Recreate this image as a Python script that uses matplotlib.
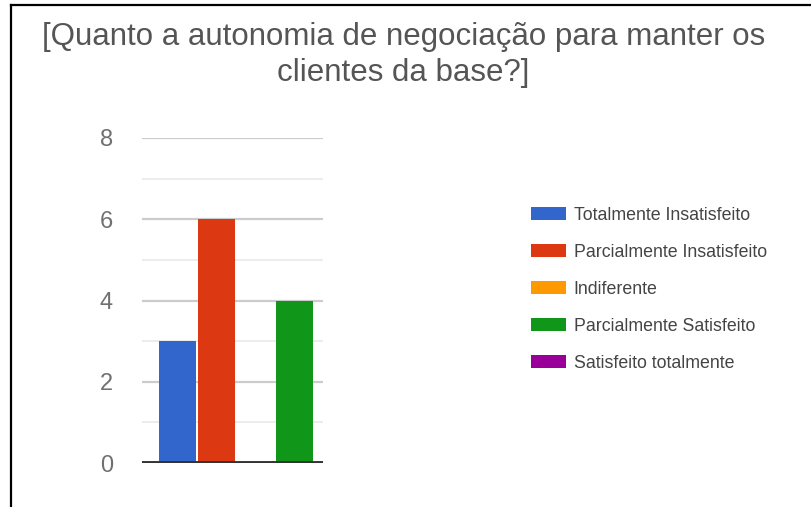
import matplotlib.pyplot as plt
from matplotlib.patches import Patch

plt.rcParams['font.family'] = ['Liberation Sans', 'DejaVu Sans']

# Respostas por categoria
categorias = ["Totalmente Insatisfeito", "Parcialmente Insatisfeito", "Indiferente",
              "Parcialmente Satisfeito", "Satisfeito totalmente"]
respostas = [3, 6, 0, 4, 0]
cores = ["#3366cc", "#dc3912", "#ff9900", "#109618", "#990099"]
yticks = [0, 2, 4, 6, 8]

fig = plt.figure(figsize=(8.12, 5.07), dpi=100)

# moldura (só esquerda e topo)
fig.add_artist(plt.Line2D([11 / 812, 11 / 812], [0, 1 - 5 / 507], color="black", lw=1.6))
fig.add_artist(plt.Line2D([11 / 812, 1], [1 - 5 / 507, 1 - 5 / 507], color="black", lw=1.6))

ax = fig.add_axes([142 / 812, 44 / 507, 181 / 812, 325 / 507])

for i, (v, c) in enumerate(zip(respostas, cores)):
    ax.bar(i, v, width=0.95, color=c, zorder=3)

ax.set_xlim(-0.91, 3.73)
ax.set_ylim(0, 8)
ax.set_yticks(yticks)
ax.set_yticks([1, 3, 5, 7], minor=True)
ax.grid(axis="y", which="major", color="#cccccc", lw=1.6, zorder=0)
ax.grid(axis="y", which="minor", color="#ebebeb", lw=1.3, zorder=0)
ax.axhline(0, color="#333333", lw=2.8, zorder=4)
ax.set_xticks([])
for s in ax.spines.values():
    s.set_visible(False)
ax.tick_params(axis="y", which="both", length=0, pad=21, labelsize=17, labelcolor="#707070")

fig.text(0.497, 1 - 55 / 507, "[Quanto a autonomia de negociação para manter os\nclientes da base?]",
         ha="center", va="center", fontsize=22.5, color="#555555", linespacing=1.25)

handles = [Patch(facecolor=c, edgecolor="none") for c in cores]
fig.legend(handles, categorias, loc="upper left", bbox_to_anchor=(515 / 812, 1 - 191 / 507),
           frameon=False, fontsize=12.8, handlelength=1.95, handleheight=0.75,
           handletextpad=0.45, labelspacing=1.12, labelcolor="#444444")

fig.savefig("out.png", dpi=100)
